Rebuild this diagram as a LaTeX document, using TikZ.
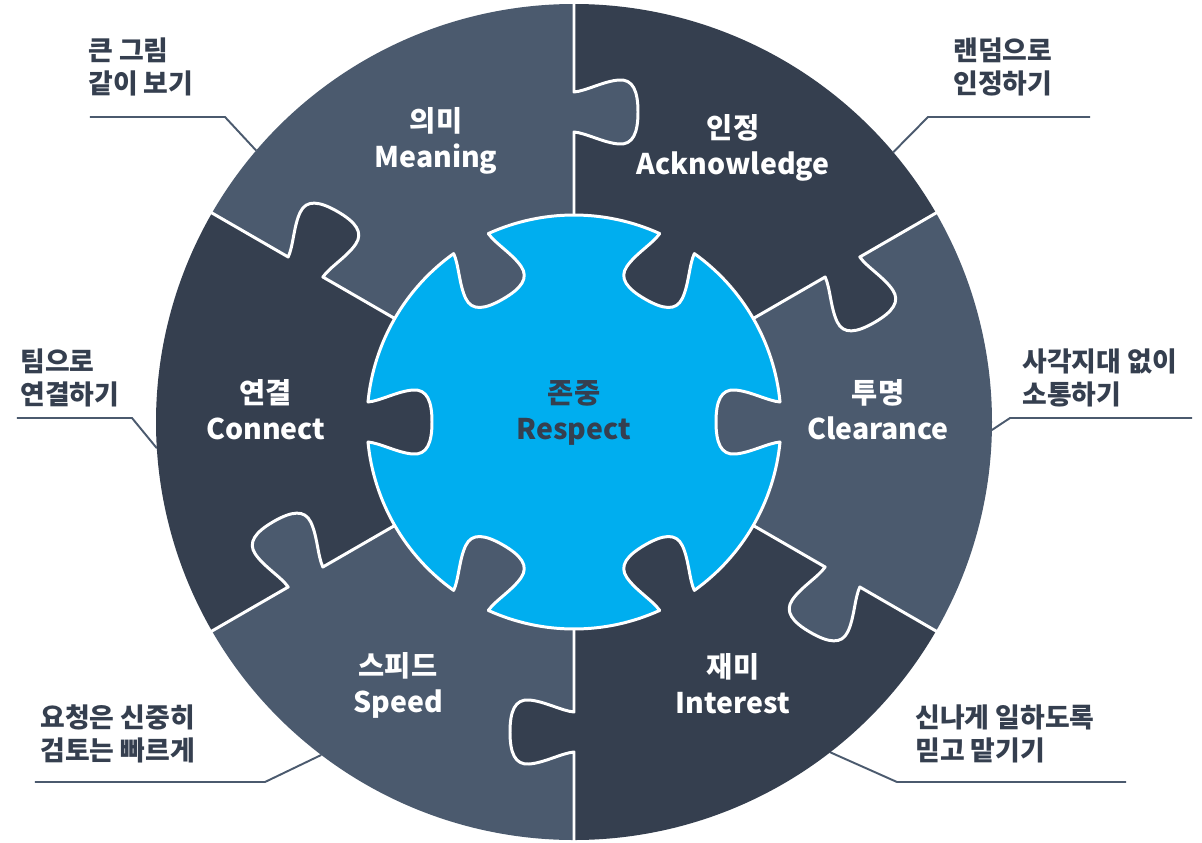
\documentclass[tikz,border=0pt]{standalone}
\usepackage{fontspec}
\setmainfont{Noto Sans CJK KR}
\usetikzlibrary{positioning,calc}

\definecolor{pieceLight}{HTML}{4B5A6E}
\definecolor{pieceDark}{HTML}{353F4F}
\definecolor{pieceBlue}{HTML}{00AEEF}
\definecolor{noteText}{HTML}{353F4F}
\definecolor{noteLine}{HTML}{4B5A6E}

% outline of one puzzle tab, from (-20,0) to (20,0), bulging to +y
\newcommand{\tabshape}{.. controls (-21,12) and (-31,30) .. (-32,45) .. controls (-33,59) and (-21,64) .. (0,64) .. controls (21,64) and (33,59) .. (32,45) .. controls (31,30) and (21,12) .. (20,0)}

\begin{document}
\begin{tikzpicture}[x=0.02cm, y=0.02cm,
	seam/.style={white, line width=1.7pt, line cap=round, line join=round},
	title/.style={text=white, font=\bfseries\fontsize{16.2}{20.5}\selectfont, align=center},
	note/.style={text=noteText, font=\bfseries\fontsize{15.3}{18.7}\selectfont, align=left, anchor=west, inner xsep=0pt},
	pointer/.style={noteLine, line width=1.1pt}]
			\useasboundingbox (-574,-420) rectangle (628,422);
			
			% Callout lines
			\coordinate (tlRim) at (139.5:418); \coordinate (tlBend) at (-349,305); \coordinate (tlEnd) at (-484,305);
			\coordinate (trRim) at (40.2:418); \coordinate (trBend) at (354,305); \coordinate (trEnd) at (516,305);
			\coordinate (lRim) at (183.6:418); \coordinate (lBend) at (-442,4); \coordinate (lEnd) at (-557,4);
			\coordinate (rRim) at (-1.1:418); \coordinate (rBend) at (436,4); \coordinate (rEnd) at (618,4);
			\coordinate (blRim) at (232.8:418); \coordinate (blBend) at (-309,-360); \coordinate (blEnd) at (-539,-360);
			\coordinate (brRim) at (-52.2:418); \coordinate (brBend) at (323,-360); \coordinate (brEnd) at (552,-360);
			\foreach \p in {tl,tr,l,r,bl,br}
				\draw[pointer] (\p Rim) -- (\p Bend) -- (\p End);
			
			% Outer pieces
			\foreach \a/\c in {120/pieceLight, 60/pieceDark, 0/pieceLight, -60/pieceDark, -120/pieceLight, 180/pieceDark}
				\fill[\c] (0,0) -- (\a-30:418) arc[start angle=\a-30, end angle=\a+30, radius=418] -- cycle;
			
			% Tabs on the seams, each piece pushes into its clockwise neighbour
			\foreach \a/\c in {120/pieceLight, 60/pieceDark, 0/pieceLight, -60/pieceDark, -120/pieceLight, 180/pieceDark}
				\fill[\c, shift={(\a-30:310)}, rotate=\a+150] (-20,-4) -- (-20,0) \tabshape -- (20,-4) -- cycle;
			\foreach \a in {90,30,-30,-90,-150,150}
				\draw[seam, shift={(\a:310)}, rotate=\a+180] (-110,0) -- (-20,0) \tabshape -- (103,0);
			
			% Centre piece
			\fill[pieceBlue] (0,0) circle (207);
			\foreach \a/\c in {120/pieceLight, 60/pieceDark, 0/pieceLight, -60/pieceDark, -120/pieceLight, 180/pieceDark}
				\fill[\c, shift={(\a:206)}, rotate=\a+90] (-20,-5) -- (-20,0) \tabshape -- (20,-5) -- cycle;
			\foreach \a in {0,60,...,300}{
				\draw[seam] (\a+5.55:207) arc[start angle=\a+5.55, end angle=\a+54.45, radius=207];
				\draw[seam, shift={(\a:206)}, rotate=\a+90] (-20,0) \tabshape;
			}
			
			% Piece titles
			\node[title] (meaning) at (-138,281) {의미\\Meaning};
			\node[title] (acknowledge) at (159,274) {인정\\Acknowledge};
			\node[title] (clearance) at (304,12) {투명\\Clearance};
			\node[title] (interest) at (159,-262) {재미\\Interest};
			\node[title] (speed) at (-176,-263) {스피드\\Speed};
			\node[title] (connect) at (-308,12) {연결\\Connect};
			\node[title, text=pieceDark] (respect) at (0,9) {존중\\Respect};
			
			% Callout texts
			\node[note] (tlNote) at (-486,355) {큰 그림\\같이 보기};
			\node[note] (trNote) at (379,355) {랜덤으로\\인정하기};
			\node[note] (lNote) at (-554,44) {팀으로\\연결하기};
			\node[note] (rNote) at (448,44) {사각지대 없이\\소통하기};
			\node[note] (blNote) at (-534,-312) {요청은 신중히\\검토는 빠르게};
			\node[note] (brNote) at (341,-312) {신나게 일하도록\\믿고 맡기기};
		\end{tikzpicture}
\end{document}
